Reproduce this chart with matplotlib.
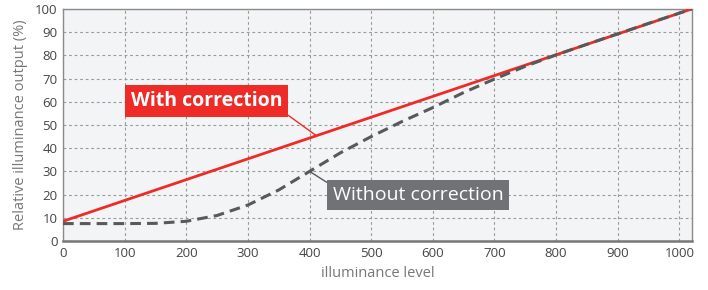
import matplotlib.pyplot as plt

# illuminance level vs relative output (%)
level_with = [0, 1020]
output_with = [8.5, 100]

level_without = [0, 50, 100, 150, 200, 250, 300, 350, 400, 450, 500, 550, 600,
                 650, 700, 750, 800, 850, 900, 950, 1020]
output_without = [7.5, 7.5, 7.5, 7.6, 8.5, 11.0, 15.5, 22.0, 30.0, 38.0, 45.0,
                  51.5, 57.5, 64.0, 69.8, 75.3, 80.2, 84.8, 89.3, 93.8, 100]

x_ticks = list(range(0, 1001, 100))
y_ticks = list(range(0, 101, 10))

RED = "#ee2b26"
DARK = "#58595b"

plt.rcParams['font.family'] = ['Open Sans', 'DejaVu Sans']

fig = plt.figure(figsize=(7.08, 2.9), dpi=100)
ax = fig.add_axes([0.089, 0.169, 0.888, 0.8])
ax.set_facecolor("#f3f4f6")

ax.plot(level_with, output_with, color=RED, linewidth=2, zorder=3)
ax.plot(level_without, output_without, color=DARK, linewidth=2.2,
        linestyle=(0, (3.5, 2)), zorder=4)

ax.set_xlim(0, 1020)
ax.set_ylim(0, 100)
ax.set_xticks(x_ticks)
ax.set_yticks(y_ticks)
ax.tick_params(length=0, labelsize=9.5, colors="#444444", pad=4)
ax.grid(True, color="#9a9a9a", linestyle=(0, (2.5, 2.5)), linewidth=0.8)
ax.set_axisbelow(True)
for side in ["top", "right", "left"]:
    ax.spines[side].set_color("#8a8a8a")
    ax.spines[side].set_linewidth(1)
ax.spines["bottom"].set_color("#777777")
ax.spines["bottom"].set_linewidth(1.8)

ax.set_xlabel("illuminance level", fontsize=10.5, color="#777777", labelpad=5)
ax.set_ylabel("Relative illuminance output (%)", fontsize=10.5, color="#777777", labelpad=5)

ax.annotate("With correction", xy=(411, 45.4), xytext=(233, 60.3),
            ha="center", va="center", fontsize=14, fontweight="bold", color="white",
            bbox=dict(boxstyle="square,pad=0.3", fc=RED, ec="none"),
            arrowprops=dict(arrowstyle="-", color=RED, lw=1,
                            shrinkA=0, shrinkB=0, relpos=(1, 0)), zorder=5)

ax.annotate("Without correction", xy=(400, 30), xytext=(576, 19.8),
            ha="center", va="center", fontsize=14, color="white",
            bbox=dict(boxstyle="square,pad=0.3", fc="#717275", ec="none"),
            arrowprops=dict(arrowstyle="-", color=DARK, lw=1,
                            shrinkA=0, shrinkB=0, relpos=(0, 1)), zorder=5)

fig.savefig("out.png", dpi=100)
